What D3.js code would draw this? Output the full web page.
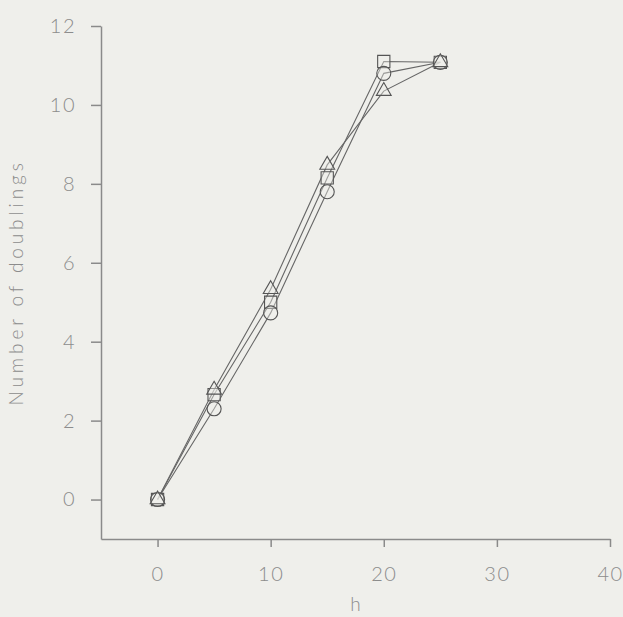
<!DOCTYPE html>
<html>
<head>
<meta charset="utf-8">
<script src="https://cdn.jsdelivr.net/npm/d3@7"></script>
<style>
    body { margin: 0; background: #efefeb; }
    svg { display: block; }
    .tick text { font-family: Lato, "DejaVu Sans", sans-serif; font-weight: 300; }
</style>
</head>
<body>
<div id="chart"></div>
<script>
const hours = [0, 5, 10, 15, 20, 25];
const squareVals = [0, 2.66, 5.0, 8.15, 11.1, 11.08];
const circleVals = [0, 2.3, 4.73, 7.8, 10.8, 11.08];
const triangleVals = [0, 2.78, 5.33, 8.48, 10.35, 11.08];
const xTicks = [0, 10, 20, 30, 40];
const yTicks = [0, 2, 4, 6, 8, 10, 12];

const series = [
    {name: "square", values: squareVals},
    {name: "circle", values: circleVals},
    {name: "triangle", values: triangleVals}
];

const width = 623, height = 617;
const bg = "#efefeb";
const axisColor = "#8a8a8a";
const textColor = "#8c8c8c";
const markColor = "#555";

const svg = d3.select("#chart").append("svg")
    .attr("width", width)
    .attr("height", height);

svg.append("rect").attr("width", width).attr("height", height).attr("fill", bg);

const x = d3.scaleLinear().domain([-5, 40]).range([101, 610]);
const y = d3.scaleLinear().domain([-1, 12]).range([539, 26]);

// axes
const xAxis = svg.append("g")
    .attr("transform", `translate(0,${y(-1)})`)
    .call(d3.axisBottom(x).tickValues(xTicks).tickSize(8).tickPadding(20).tickSizeOuter(0));
const yAxis = svg.append("g")
    .attr("transform", `translate(${x(-5)},0)`)
    .call(d3.axisLeft(y).tickValues(yTicks).tickSize(10).tickPadding(15).tickSizeOuter(0));

[xAxis, yAxis].forEach(g => {
    g.select(".domain").attr("stroke", axisColor).attr("stroke-width", 1.5);
    g.selectAll(".tick line").attr("stroke", axisColor).attr("stroke-width", 1.5);
    g.selectAll(".tick text")
        .attr("fill", textColor)
        .style("font-size", "20px")
        .style("letter-spacing", "1.5px");
});

svg.append("text")
    .attr("transform", `translate(23,${(y(12) + y(-1)) / 2}) rotate(-90)`)
    .attr("text-anchor", "middle")
    .attr("fill", textColor)
    .style("font-family", "Lato, 'DejaVu Sans', sans-serif")
    .style("font-weight", 300)
    .style("font-size", "19px")
    .style("letter-spacing", "3.9px")
    .text("Number of doublings");

svg.append("text")
    .attr("x", x(17.5))
    .attr("y", 611)
    .attr("text-anchor", "middle")
    .attr("fill", textColor)
    .style("font-family", "Lato, 'DejaVu Sans', sans-serif")
    .style("font-weight", 300)
    .style("font-size", "19px")
    .text("h");

// lines
const line = d3.line()
    .x((d, i) => x(hours[i]))
    .y(d => y(d));

svg.append("g").selectAll("path")
    .data(series)
    .join("path")
    .attr("d", d => line(d.values))
    .attr("fill", "none")
    .attr("stroke", "#666")
    .attr("stroke-width", 1.1);

// markers
const sq = d3.symbol().type(d3.symbolSquare).size(150);
const ci = d3.symbol().type(d3.symbolCircle).size(155);
const tr = d3.symbol().type(d3.symbolTriangle).size(95);
const shapeOf = {square: sq, circle: ci, triangle: tr};

series.forEach(s => {
    svg.append("g").selectAll("path")
        .data(s.values)
        .join("path")
        .attr("transform", (d, i) => `translate(${x(hours[i])},${y(d)})`)
        .attr("d", shapeOf[s.name]())
        .attr("fill", bg)
        .attr("fill-opacity", 0.4)
        .attr("stroke", markColor)
        .attr("stroke-width", 1.1);
});
</script>
</body>
</html>
